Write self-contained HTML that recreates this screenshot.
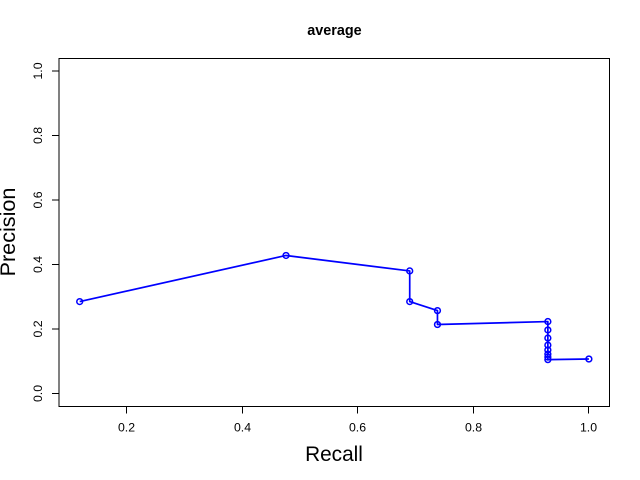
<!DOCTYPE html>
<html>
<head>
<meta charset="utf-8">
<title>average</title>
<style>
html,body{margin:0;padding:0;background:#fff;width:640px;height:480px;overflow:hidden}
svg{display:block}
text{font-family:"Liberation Sans",sans-serif;fill:#000}
</style>
</head>
<body>
<svg id="chart" xmlns="http://www.w3.org/2000/svg" width="640" height="480" viewBox="0 0 640 480">
<rect width="640" height="480" fill="#fff"/>
<text x="334.5" y="35" font-size="14.4" font-weight="bold" text-anchor="middle">average</text>
<g id="x-axis"></g>
<g id="y-axis"></g>
<path d="M59 58.5H609.5V406.5H59Z" fill="none" stroke="#000" stroke-width="1"/>
<text x="334" y="461" font-size="20.8" text-anchor="middle">Recall</text>
<text transform="translate(15 232) rotate(-90)" font-size="21.6" text-anchor="middle">Precision</text>
<g id="series"></g>
</svg>
<script>
const recall = [0.119, 0.476, 0.690, 0.690, 0.738, 0.738, 0.929, 0.929, 0.929, 0.929, 0.929, 0.929, 0.929, 0.929, 1.0];
const precision = [0.285, 0.428, 0.380, 0.285, 0.257, 0.214, 0.223, 0.197, 0.172, 0.150, 0.135, 0.122, 0.113, 0.105, 0.107];
const xTicks = [0.2, 0.4, 0.6, 0.8, 1.0];
const yTicks = [0.0, 0.2, 0.4, 0.6, 0.8, 1.0];

const NS = 'http://www.w3.org/2000/svg';
function xScale(v) { return 126.5 + (v - 0.2) * 578; }
function yScale(v) { return 393.5 - v * 322.5; }
function make(tag, attrs, parent) {
  const el = document.createElementNS(NS, tag);
  for (const k in attrs) el.setAttribute(k, attrs[k]);
  parent.appendChild(el);
  return el;
}

const xAxis = document.getElementById('x-axis');
const yAxis = document.getElementById('y-axis');
const series = document.getElementById('series');

xTicks.forEach(function (t) {
  const x = Math.round(xScale(t) - 0.5) + 0.5;
  const tick = make('line', {x1: x, x2: x, y1: 406.5, y2: 413.5, stroke: '#000'}, xAxis);
  
  
  const label = make('text', {x: x, y: 431.5, 'font-size': 12.3, 'text-anchor': 'middle'}, xAxis);
  
  
  label.textContent = t.toFixed(1);
});

yTicks.forEach(function (t) {
  const y = yScale(t);
  const tick = make('line', {x1: 52, x2: 59, y1: y, y2: y, stroke: '#000'}, yAxis);
  
  
  const label = make('text', {transform: 'translate(42 ' + y + ') rotate(-90)', 'font-size': 12.3, 'text-anchor': 'middle'}, yAxis);
  
  
  label.textContent = t.toFixed(1);
});

const pts = recall.map(function (r, i) { return xScale(r) + ',' + yScale(precision[i]); }).join(' ');
const line = make('polyline', {points: pts, fill: 'none', stroke: '#0000ff', 'stroke-width': 1.7, 'stroke-linejoin': 'round'}, series);



recall.forEach(function (r, i) {
  const c = make('circle', {cx: xScale(r), cy: yScale(precision[i]), r: 2.9, fill: 'none', stroke: '#0000ff', 'stroke-width': 1.5}, series);
  
  
});
</script>
</body>
</html>
